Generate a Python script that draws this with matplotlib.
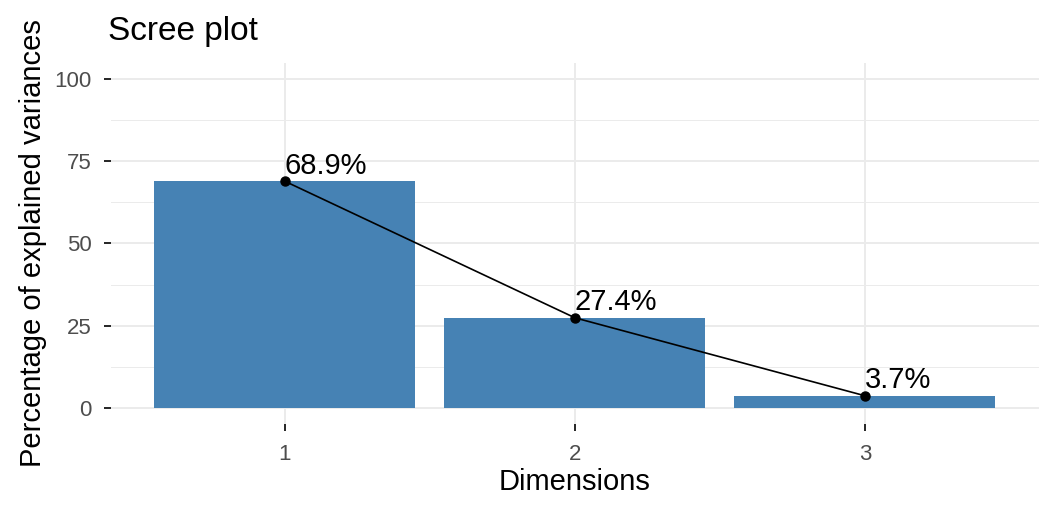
import numpy as np
import matplotlib.pyplot as plt
from matplotlib.ticker import MultipleLocator

plt.rcParams['font.family'] = ['Liberation Sans', 'DejaVu Sans']

# explained variance per dimension
dims = [1, 2, 3]
variance = [68.9, 27.4, 3.7]
labels = ['68.9%', '27.4%', '3.7%']

fig = plt.figure(figsize=(10.56, 5.18), dpi=100)
ax = fig.add_axes([0.1051, 0.1807, 0.8788, 0.6985])

ax.bar(dims, variance, width=0.9, color='steelblue', zorder=2)
ax.plot(dims, variance, color='black', lw=1.2, marker='o', ms=6.5, zorder=3)
for x, y, t in zip(dims, variance, labels):
    ax.annotate(t, (x, y), xytext=(0, 1), textcoords='offset points',
                ha='left', va='bottom', fontsize=21, color='black', zorder=4)

ax.set_xlim(0.4, 3.6)
ax.set_ylim(-5, 105)
ax.set_xticks(dims)
ax.set_yticks([0, 25, 50, 75, 100])
ax.yaxis.set_minor_locator(MultipleLocator(12.5))

ax.grid(which='major', color='#EBEBEB', lw=1.4, zorder=0)
ax.grid(which='minor', axis='y', color='#EBEBEB', lw=0.7, zorder=0)
ax.set_axisbelow(True)
for s in ax.spines.values():
    s.set_visible(False)

ax.tick_params(axis='both', which='major', length=5, width=1.2, color='black',
               labelsize=16, labelcolor='#4D4D4D', pad=9)
ax.tick_params(which='minor', length=0)

ax.set_xlabel('Dimensions', fontsize=21, labelpad=2)
ax.set_ylabel('Percentage of explained variances', fontsize=21, labelpad=5)
ax.set_title('Scree plot', fontsize=24, loc='left', x=-0.003, pad=16)

fig.savefig('out.png', dpi=100)
